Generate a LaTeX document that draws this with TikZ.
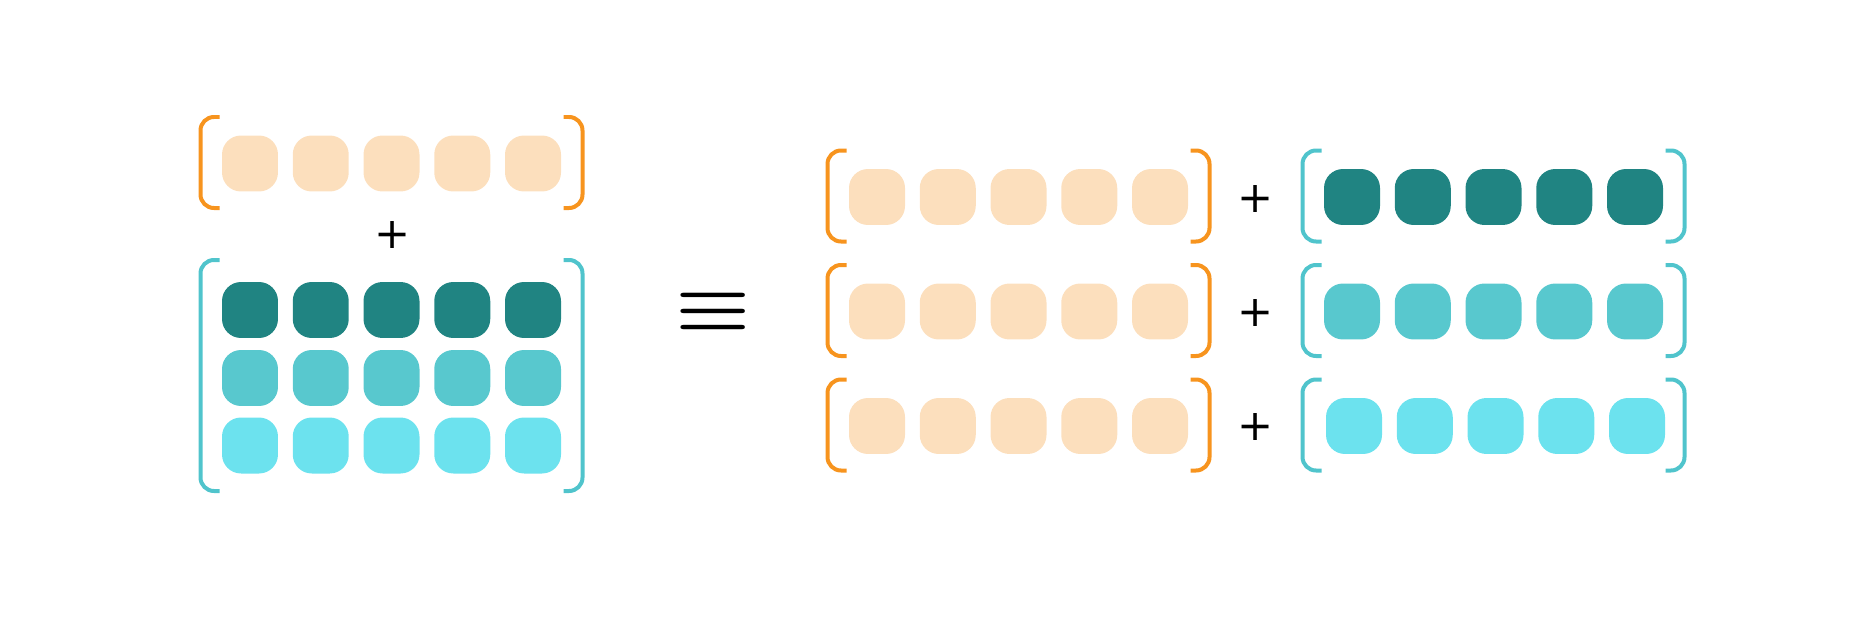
\documentclass[tikz,border=0pt]{standalone}
\usepackage{fontspec}
\newfontfamily\opfont{DejaVu Sans}
\definecolor{peach}{RGB}{252,223,189}
\definecolor{deepteal}{RGB}{32,132,130}
\definecolor{midteal}{RGB}{88,200,206}
\definecolor{skyteal}{RGB}{108,226,238}
\definecolor{brorange}{RGB}{247,148,30}
\definecolor{brteal}{RGB}{80,196,204}

\begin{document}
\begin{tikzpicture}[x=0.02cm, y=-0.02cm,
    cell/.style = {minimum size=1.12cm, inner sep=0, rounded corners=0.38cm, fill=#1},
    bracket/.style = {line width=0.08cm, rounded corners=0.27cm, draw=#1},
    plussign/.style = {inner sep=0, scale=2.45, font=\opfont},
    ]
    \useasboundingbox (0,0) rectangle (1875,625);
    % square cells
    \foreach \i in {1,...,5}{
        \node (a\i)[cell=peach] at (179.25+70.75*\i,163.5){};
        \node (b\i)[cell=deepteal] at (179.25+70.75*\i,310){};
        \node (c\i)[cell=midteal] at (179.25+70.75*\i,378){};
        \node (d\i)[cell=skyteal] at (179.25+70.75*\i,445.5){};
        \node (e\i)[cell=peach] at (806.25+70.75*\i,197){};
        \node (f\i)[cell=peach] at (806.25+70.75*\i,311.5){};
        \node (g\i)[cell=peach] at (806.25+70.75*\i,426){};
        \node (h\i)[cell=deepteal] at (1281.25+70.75*\i,197){};
        \node (k\i)[cell=midteal] at (1281.25+70.75*\i,311.5){};
        \node (m\i)[cell=skyteal] at (1283.25+70.75*\i,426){};
    }
    % brackets
    \foreach \cx/\cy/\hh/\col in {391.5/162.5/45.5/brorange, 391.5/375.5/115.5/brteal,
        1018.5/196/45.5/brorange, 1018.5/310.5/45.5/brorange, 1018.5/425/45.5/brorange,
        1493.5/196/45.5/brteal, 1493.5/310.5/45.5/brteal, 1493.5/425/45.5/brteal}{
        \draw[bracket=\col] (\cx-172,\cy-\hh) -- ++(-19,0) -- ++(0,2*\hh) -- ++(19,0);
        \draw[bracket=\col] (\cx+172,\cy-\hh) -- ++(19,0) -- ++(0,2*\hh) -- ++(-19,0);
    }
    % operators
    \node (p0)[plussign] at (392.5,235){+};
    \node (p1)[plussign] at (1256,199){+};
    \node (p2)[plussign] at (1256,313){+};
    \node (p3)[plussign] at (1256,427){+};
    \node (eq)[inner sep=0, xscale=4.8, yscale=4.1, font=\boldmath] at (713.5,311.5){$\equiv$};
\end{tikzpicture}
\end{document}
